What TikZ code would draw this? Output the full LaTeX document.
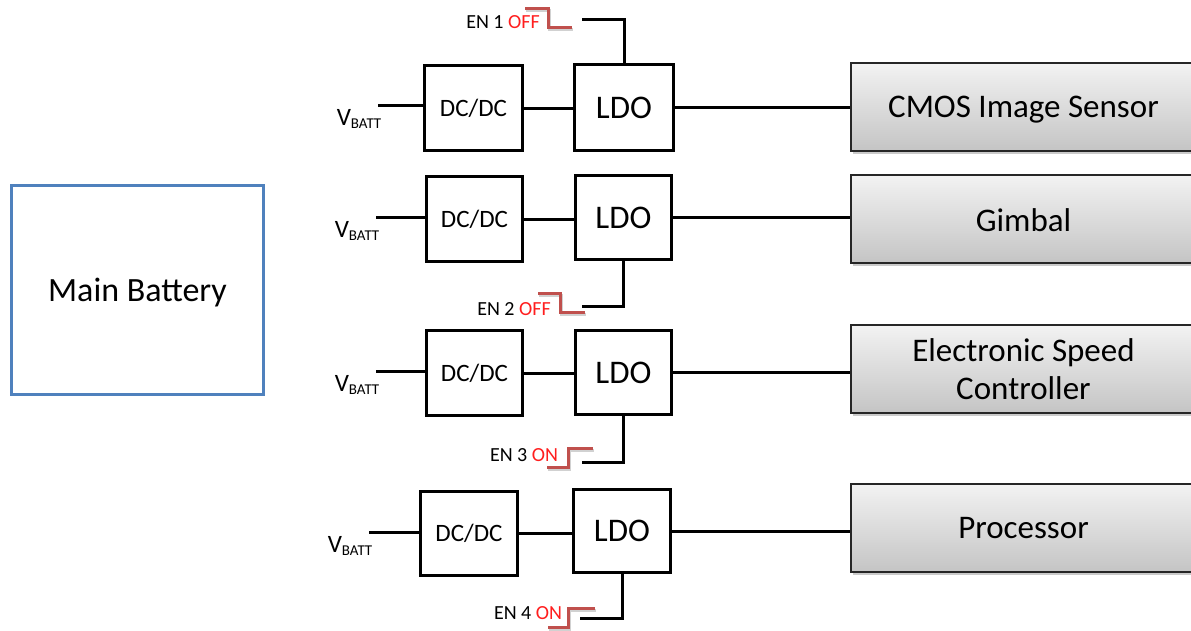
\documentclass[tikz,border=0pt]{standalone}
\usepackage{fontspec}
\setmainfont{Carlito}
\usetikzlibrary{shadows}
\definecolor{batblue}{RGB}{79,129,189}
\definecolor{sigred}{RGB}{192,80,77}
\definecolor{txtred}{RGB}{255,30,30}
\newcommand{\lowertxt}[2]{\raisebox{-#1}[\height][\depth]{#2}}
\begin{document}
\begin{tikzpicture}[x=1pt,y=-1pt,
  blk/.style={draw=black,line width=3pt,inner sep=0pt,fill=white},
  dcbox/.style={blk,font=\fontsize{25}{30}\selectfont},
  ldobox/.style={blk,font=\fontsize{33}{38}\selectfont},
  loadbox/.style={draw=black!85,line width=2pt,inner sep=0pt,minimum width=345pt,minimum height=88pt,
     top color=black!5,bottom color=black!23,align=center,
     font=\fontsize{33}{38}\selectfont,
     drop shadow={shadow xshift=2pt,shadow yshift=-3pt,opacity=0.35,fill=black!60}},
  wire/.style={line width=3pt,black},
  sig/.style={line width=3pt,sigred,
     preaction={draw,black,opacity=0.18,line width=3pt,transform canvas={xshift=1pt,yshift=-2pt}}},
  enlbl/.style={font=\fontsize{20}{23}\selectfont,inner sep=0pt},
  vlbl/.style={font=\fontsize{25}{28}\selectfont,inner sep=0pt,anchor=north east}
]
\useasboundingbox (0,0) rectangle (1191,630);
\clip (0,0) rectangle (1191,630);

% main battery
\node[draw=batblue,line width=3pt,minimum width=252pt,minimum height=209pt,inner sep=0pt,
      font=\fontsize{34}{40}\selectfont] (bat) at (137.5,290) {\lowertxt{3pt}{Main Battery}};

% row 1
\node[dcbox,minimum width=98pt,minimum height=85pt] (dc1) at (473.5,108) {DC/DC};
\node[ldobox,minimum width=99pt,minimum height=86pt] (ldo1) at (624,107.5) {LDO};
\node[loadbox] (cmos) at (1023.5,107) {\lowertxt{3pt}{CMOS Image Sensor}};
% row 2
\node[dcbox,minimum width=96pt,minimum height=85pt] (dc2) at (474.5,219) {DC/DC};
\node[ldobox,minimum width=96pt,minimum height=84pt] (ldo2) at (623.5,217.5) {LDO};
\node[loadbox] (gimbal) at (1023.5,219) {\lowertxt{1.5pt}{Gimbal}};
% row 3
\node[dcbox,minimum width=96pt,minimum height=85pt] (dc3) at (474.5,373) {DC/DC};
\node[ldobox,minimum width=96pt,minimum height=84pt] (ldo3) at (623.5,372.5) {LDO};
\node[loadbox] (esc) at (1023.5,369) {Electronic Speed\\Controller};
% row 4
\node[dcbox,minimum width=97pt,minimum height=84pt] (dc4) at (469,533.5) {DC/DC};
\node[ldobox,minimum width=97pt,minimum height=83pt] (ldo4) at (622,531) {LDO};
\node[loadbox] (proc) at (1023.5,528) {Processor};

% VBATT inputs
\coordinate (vb1) at (378,105);
\coordinate (vb2) at (376,217);
\coordinate (vb3) at (376,371);
\coordinate (vb4) at (369,532);
\foreach \i in {1,2,3,4}{
  \draw[wire] (vb\i) -- (vb\i -| dc\i.west);
  \node[vlbl] (vl\i) at ([xshift=4pt,yshift=-4pt]vb\i) {V\textsubscript{\fontsize{15}{17}\selectfont BATT}};
  \draw[wire] (dc\i.east) -- (dc\i.east -| ldo\i.west);
}
\draw[wire] (ldo1.east) -- (ldo1.east -| cmos.west);
\draw[wire] (ldo2.east) -- (ldo2.east -| gimbal.west);
\draw[wire] (ldo3.east) -- (ldo3.east -| esc.west);
\draw[wire] (ldo4.east) -- (ldo4.east -| proc.west);

% enables
\coordinate (e1) at (582,19);
\coordinate (e2) at (582,306);
\coordinate (e3) at (582,462);
\coordinate (e4) at (580,618);
\draw[wire] (e1) -| (ldo1.north);
\draw[wire] (e2) -| (ldo2.south);
\draw[wire] (e3) -| (ldo3.south);
\draw[wire] (e4) -| (ldo4.south);

\node[enlbl] (en1) at (503,22) {EN 1 \textcolor{txtred}{OFF}};
\node[enlbl] (en2) at (514,309) {EN 2 \textcolor{txtred}{OFF}};
\node[enlbl] (en3) at (524,455) {EN 3 \textcolor{txtred}{ON}};
\node[enlbl] (en4) at (528,613) {EN 4 \textcolor{txtred}{ON}};

\draw[sig] (525,8) -- (548,8) -- (548,27) -- (572,27);
\draw[sig] (538,293) -- (560,293) -- (560,312) -- (585,312);
\draw[sig] (547,467) -- (568,467) -- (568,448) -- (593,448);
\draw[sig] (548,627) -- (568,627) -- (568,608) -- (595,608);
\end{tikzpicture}
\end{document}
